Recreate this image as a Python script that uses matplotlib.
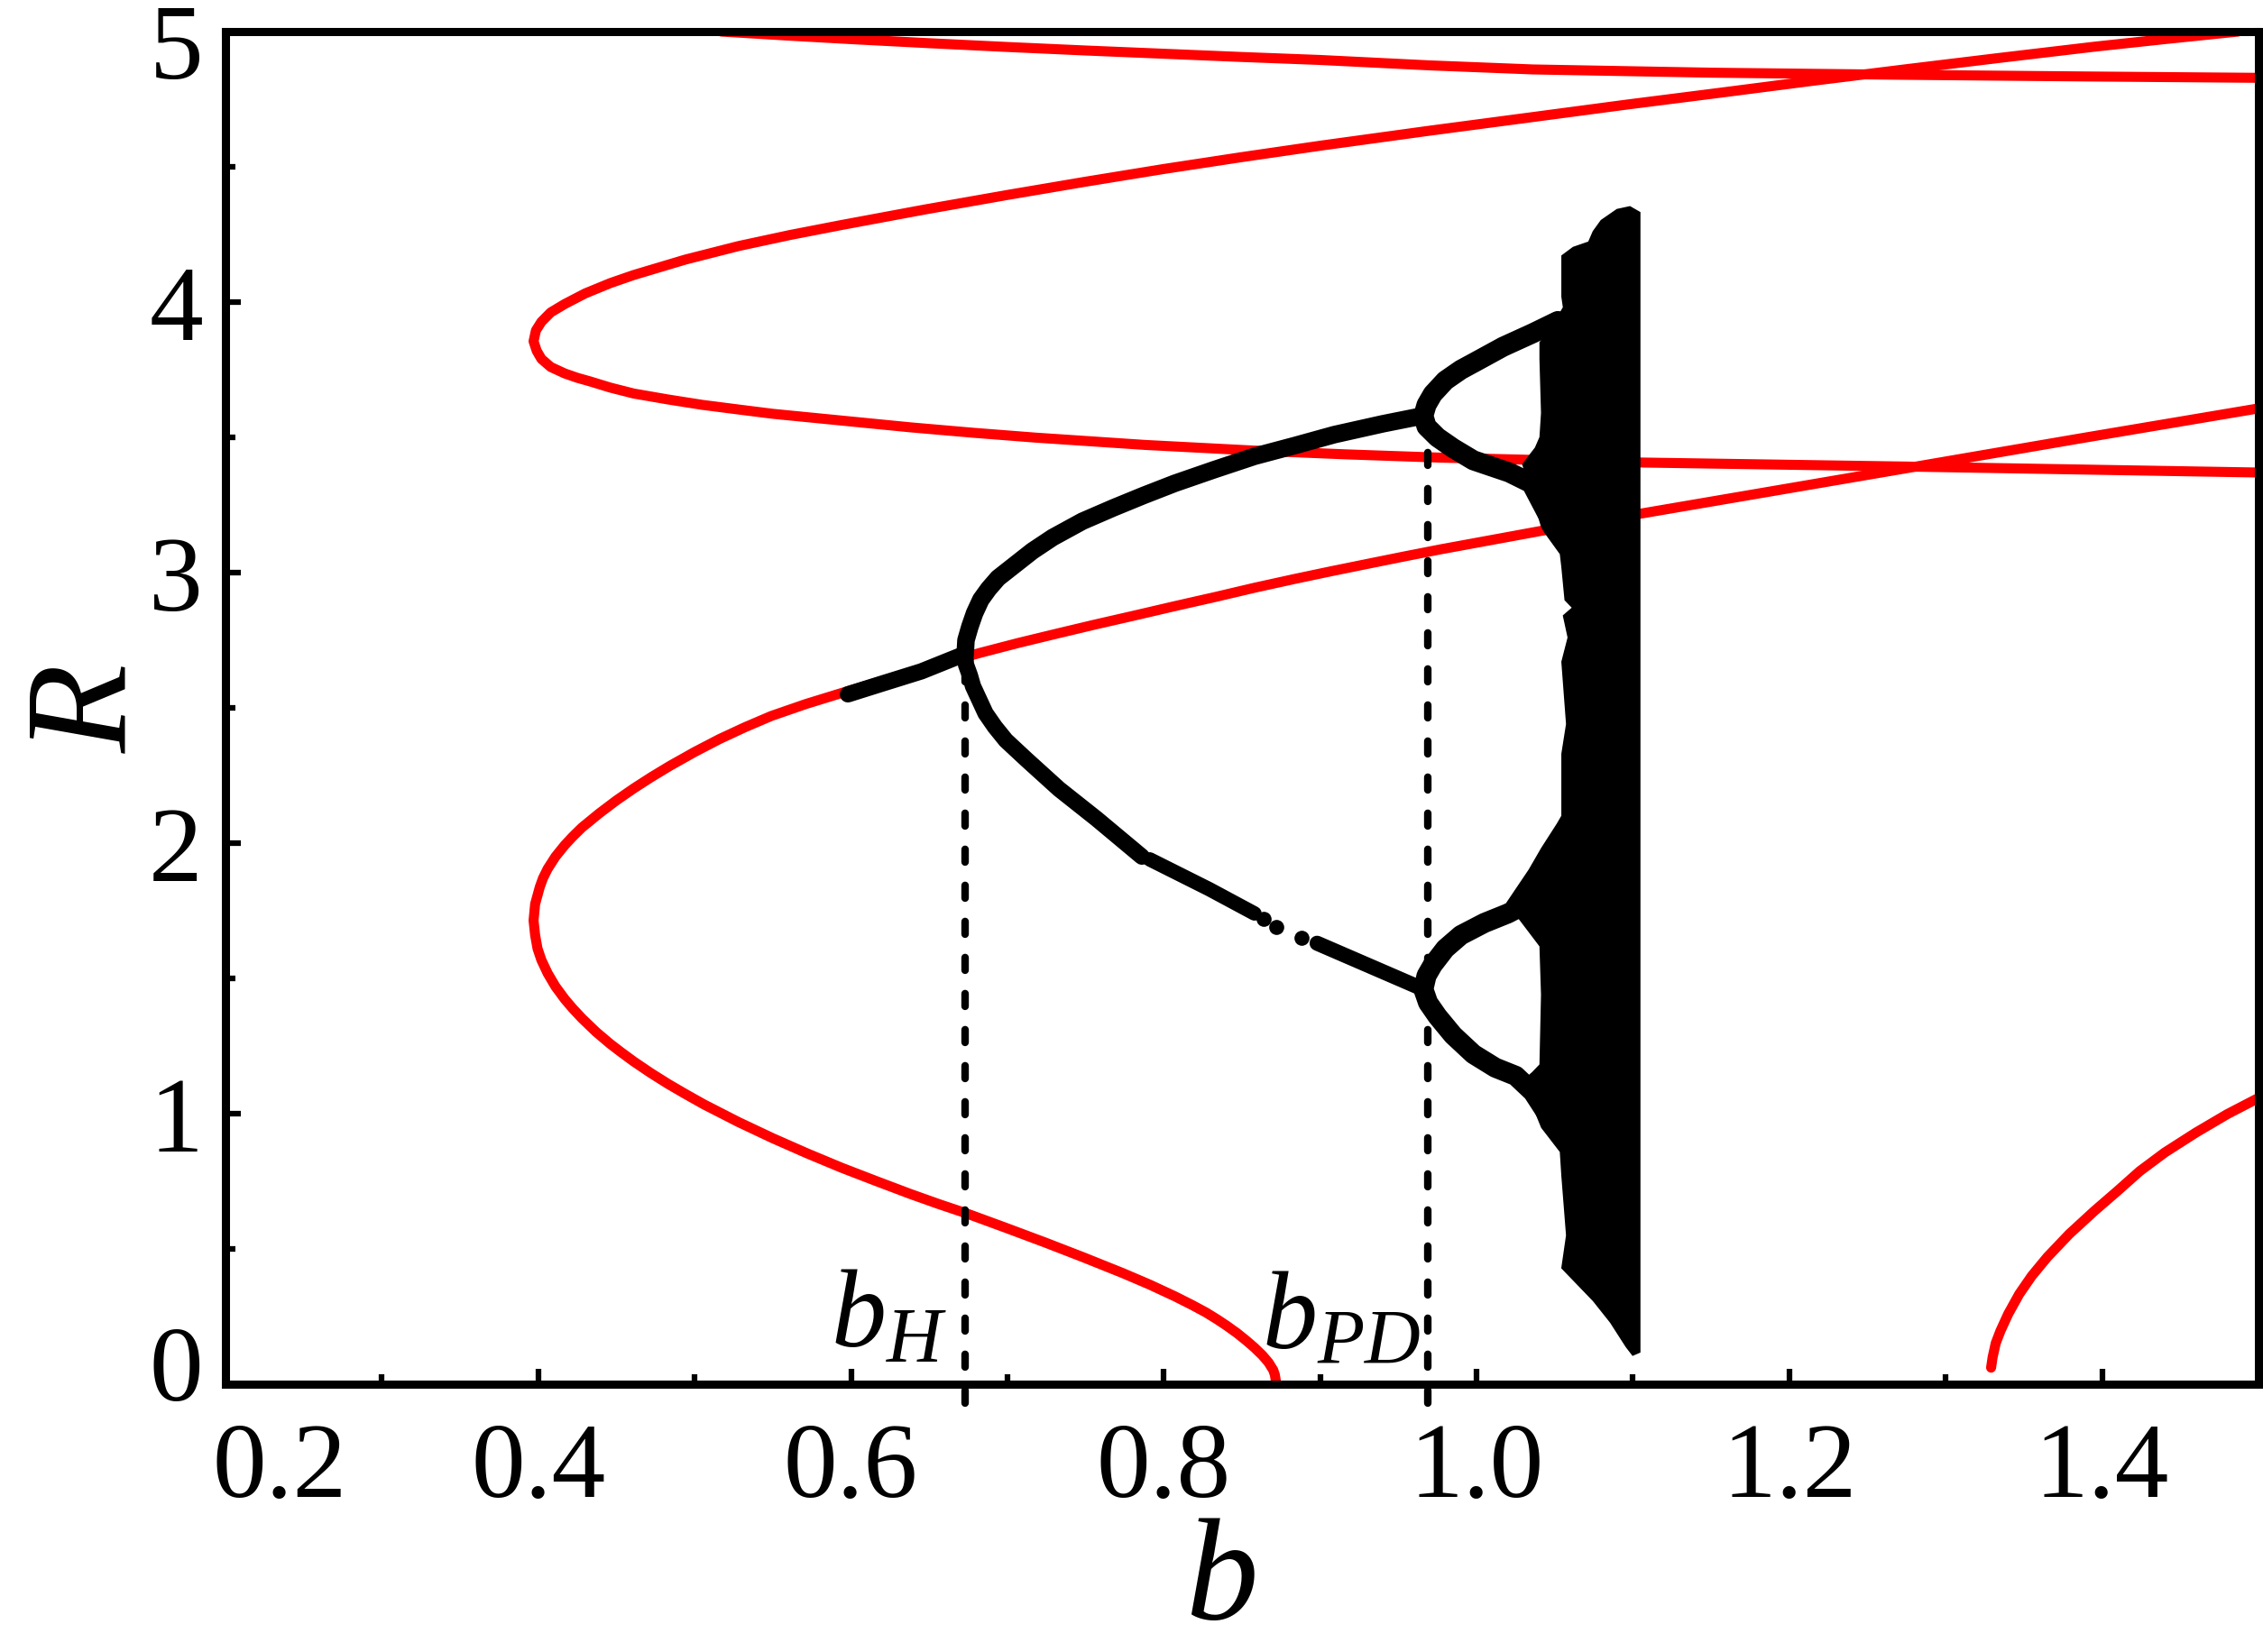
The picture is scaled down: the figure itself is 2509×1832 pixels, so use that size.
import matplotlib
matplotlib.use("Agg")
import matplotlib.pyplot as plt
import matplotlib.transforms as mtransforms
from matplotlib.ticker import FixedLocator

plt.rcParams["font.family"] = "Liberation Serif"
plt.rcParams["mathtext.fontset"] = "custom"
plt.rcParams["mathtext.rm"] = "Liberation Serif"
plt.rcParams["mathtext.it"] = "Liberation Serif:italic"

# ---- red curves (equilibria) ----
# curve A: lower end on the b axis -> nose -> rising branch to the right edge
a_b = [0.872, 0.871, 0.870, 0.867, 0.863, 0.858, 0.853, 0.847, 0.840, 0.834,
       0.827, 0.818, 0.807, 0.791, 0.774, 0.749, 0.724, 0.699, 0.674, 0.656,
       0.638, 0.616, 0.594, 0.572, 0.550, 0.528, 0.506, 0.494, 0.483, 0.472,
       0.461, 0.453, 0.446, 0.437, 0.428, 0.422, 0.417, 0.411, 0.406, 0.402,
       0.3995, 0.398, 0.397, 0.398, 0.401, 0.403, 0.406, 0.411, 0.417, 0.422,
       0.428, 0.439, 0.450, 0.461, 0.472, 0.484, 0.500, 0.516, 0.532, 0.549,
       0.571, 0.594, 0.617, 0.640, 0.660, 0.683, 0.707, 0.732, 0.756, 0.781,
       0.807, 0.833, 0.858, 0.884, 0.907, 0.930, 0.954, 0.977, 1.042, 1.105,
       1.190, 1.275, 1.387, 1.500]
a_R = [0.000, 0.035, 0.052, 0.080, 0.107, 0.135, 0.160, 0.188, 0.217, 0.240,
       0.265, 0.293, 0.325, 0.368, 0.410, 0.468, 0.524, 0.578, 0.631, 0.666,
       0.703, 0.751, 0.800, 0.853, 0.909, 0.969, 1.034, 1.073, 1.110, 1.150,
       1.193, 1.227, 1.258, 1.302, 1.352, 1.389, 1.423, 1.470, 1.519, 1.568,
       1.611, 1.660, 1.714, 1.775, 1.838, 1.870, 1.905, 1.950, 1.993, 2.024,
       2.058, 2.110, 2.158, 2.202, 2.243, 2.285, 2.337, 2.385, 2.428, 2.470,
       2.514, 2.555, 2.595, 2.634, 2.667, 2.704, 2.740, 2.775, 2.808, 2.841,
       2.876, 2.910, 2.944, 2.977, 3.005, 3.032, 3.060, 3.086, 3.155, 3.218,
       3.302, 3.386, 3.497, 3.607]

# curve B: top end -> upper arm -> nose -> lower arm to the right edge
b_b = [1.487, 1.440, 1.395, 1.335, 1.275, 1.215, 1.156, 1.096, 1.036, 0.968,
       0.900, 0.850, 0.800, 0.750, 0.700, 0.647, 0.594, 0.561, 0.528, 0.494,
       0.461, 0.446, 0.430, 0.417, 0.408, 0.402, 0.3985, 0.397, 0.399, 0.402,
       0.408, 0.417, 0.425, 0.433, 0.446, 0.461, 0.483, 0.505, 0.528, 0.550,
       0.594, 0.638, 0.678, 0.718, 0.788, 0.858, 0.917, 0.977, 1.105, 1.275,
       1.500]
b_R = [5.000, 4.972, 4.944, 4.903, 4.861, 4.818, 4.774, 4.730, 4.684, 4.632,
       4.578, 4.536, 4.492, 4.445, 4.396, 4.342, 4.285, 4.248, 4.207, 4.157,
       4.100, 4.070, 4.032, 3.993, 3.962, 3.927, 3.895, 3.855, 3.820, 3.790,
       3.760, 3.736, 3.720, 3.707, 3.684, 3.662, 3.640, 3.620, 3.603, 3.587,
       3.562, 3.537, 3.517, 3.499, 3.472, 3.451, 3.437, 3.425, 3.407, 3.392,
       3.370]

# curve C: nearly flat line near the top
c_b = [0.517, 0.560, 0.600, 0.650, 0.700, 0.750, 0.800, 0.850, 0.900, 0.970,
       1.036, 1.150, 1.275, 1.390, 1.500]
c_R = [5.000, 4.985, 4.972, 4.957, 4.943, 4.930, 4.918, 4.906, 4.895, 4.875,
       4.860, 4.848, 4.840, 4.834, 4.829]

# curve D: bottom right
d_b = [1.329, 1.330, 1.332, 1.335, 1.340, 1.347, 1.355, 1.365, 1.379, 1.395,
       1.410, 1.424, 1.440, 1.460, 1.480, 1.500]
d_R = [0.061, 0.100, 0.152, 0.197, 0.260, 0.333, 0.400, 0.470, 0.555, 0.640,
       0.715, 0.787, 0.856, 0.930, 0.998, 1.058]

# ---- black bifurcation diagram ----
stable_b = [0.598, 0.620, 0.645, 0.673]
stable_R = [2.55, 2.59, 2.635, 2.70]

hopf_up_b = [0.673, 0.6735, 0.676, 0.679, 0.683, 0.688, 0.694, 0.705, 0.716,
             0.729, 0.748, 0.768, 0.787, 0.807, 0.832, 0.858, 0.884, 0.909,
             0.940, 0.966]
hopf_up_R = [2.70, 2.75, 2.80, 2.85, 2.90, 2.94, 2.98, 3.03, 3.08,
             3.13, 3.19, 3.24, 3.285, 3.33, 3.38, 3.43, 3.47, 3.51,
             3.55, 3.58]

hopf_lo1_b = [0.673, 0.6735, 0.676, 0.678, 0.682, 0.686, 0.692, 0.699, 0.712,
              0.733, 0.757, 0.786]
hopf_lo1_R = [2.70, 2.66, 2.62, 2.58, 2.53, 2.48, 2.43, 2.38, 2.31,
              2.20, 2.09, 1.95]
hopf_lo2_b = [0.791, 0.829, 0.858]
hopf_lo2_R = [1.94, 1.83, 1.74]
hopf_dots_b = [0.864, 0.872, 0.888]
hopf_dots_R = [1.72, 1.69, 1.65]
hopf_lo3_b = [0.898, 0.930, 0.966]
hopf_lo3_R = [1.63, 1.55, 1.46]

# period-2 loops after b_PD
loop_up_b = [1.045, 1.035, 1.021, 0.998, 0.985, 0.975, 0.968, 0.966, 0.968,
             0.972, 0.980, 0.990, 0.998, 1.017, 1.036, 1.052]
loop_up_R = [3.22, 3.33, 3.37, 3.415, 3.46, 3.50, 3.54, 3.58, 3.62,
             3.66, 3.71, 3.75, 3.775, 3.835, 3.885, 3.93]
loop_lo_b = [1.045, 1.036, 1.025, 1.012, 0.998, 0.985, 0.975, 0.969, 0.966,
             0.968, 0.972, 0.980, 0.990, 1.005, 1.020, 1.030]
loop_lo_R = [1.00, 1.08, 1.14, 1.17, 1.22, 1.29, 1.36, 1.41, 1.46,
             1.51, 1.55, 1.61, 1.66, 1.705, 1.74, 1.77]

# chaotic band outline
chaos_b = [1.104, 1.098, 1.090, 1.080, 1.075, 1.072, 1.062, 1.055, 1.055,
           1.056, 1.052, 1.041, 1.041, 1.042, 1.041, 1.038, 1.030, 1.042,
           1.044, 1.054, 1.055, 1.057, 1.062, 1.056, 1.059, 1.055, 1.058,
           1.055, 1.055, 1.052, 1.042, 1.034, 1.027, 1.020, 1.041, 1.042,
           1.041, 1.036, 1.030, 1.042, 1.054, 1.055, 1.058, 1.055, 1.065,
           1.075, 1.086, 1.096, 1.100, 1.104]
chaos_R = [4.33, 4.35, 4.34, 4.30, 4.26, 4.22, 4.20, 4.17, 4.02,
           3.98, 3.94, 3.85, 3.79, 3.59, 3.50, 3.46, 3.40, 3.17,
           3.15, 3.07, 3.02, 2.90, 2.87, 2.84, 2.76, 2.67, 2.44,
           2.33, 2.10, 2.07, 1.98, 1.90, 1.84, 1.78, 1.62, 1.44,
           1.18, 1.15, 1.12, 0.95, 0.86, 0.77, 0.55, 0.43, 0.37,
           0.31, 0.23, 0.14, 0.11, 0.12]

b_hopf = 0.673
b_pd = 0.969

x_ticks = [0.2, 0.4, 0.6, 0.8, 1.0, 1.2, 1.4]
x_tick_labels = ["0.2", "0.4", "0.6", "0.8", "1.0", "1.2", "1.4"]
x_minor = [0.3, 0.5, 0.7, 0.9, 1.1, 1.3, 1.5]
y_ticks = [0, 1, 2, 3, 4, 5]
y_minor = [0.5, 1.5, 2.5, 3.5, 4.5]

fig = plt.figure(figsize=(25.09, 18.33), dpi=100)
ax = fig.add_axes([250 / 2509, 1 - 1536 / 1833, 2254 / 2509, 1500 / 1833])

red = "#ff0000"
for xb, yr in [(a_b, a_R), (b_b, b_R), (c_b, c_R), (d_b, d_R)]:
    ax.plot(xb, yr, color=red, lw=8, solid_capstyle="round",
            solid_joinstyle="round", zorder=2)

blk = dict(color="k", lw=13, solid_capstyle="round", solid_joinstyle="round", zorder=3)
ax.plot(stable_b, stable_R, **blk)
ax.plot(hopf_up_b, hopf_up_R, **dict(blk, lw=14))
ax.plot(hopf_lo1_b, hopf_lo1_R, **blk)
ax.plot(hopf_lo2_b, hopf_lo2_R, **dict(blk, lw=11.5))
ax.plot(hopf_lo3_b, hopf_lo3_R, **dict(blk, lw=12))
ax.plot(hopf_dots_b, hopf_dots_R, "o", color="k", ms=12, mew=0, zorder=3)
ax.plot(loop_up_b, loop_up_R, **dict(blk, lw=16))
ax.plot(loop_lo_b, loop_lo_R, **dict(blk, lw=16))
ax.fill(chaos_b, chaos_R, color="k", lw=2, zorder=4)

# dashed markers for the Hopf and period-doubling points
dash = dict(color="k", lw=6, dashes=(1.7, 3.1), dash_capstyle="round",
            zorder=5, clip_on=False)
ax.plot([b_hopf, b_hopf], [-0.07, 2.62], **dash)
ax.plot([b_pd, b_pd], [-0.07, 3.50], **dash)

ax.text(0.661, 0.14, r"$b_H$", fontsize=88, ha="right", va="baseline", zorder=6)
ax.text(0.964, 0.14, r"$b_{PD}$", fontsize=88, ha="right", va="baseline", zorder=6)

ax.set_xlim(0.2, 1.5)
ax.set_ylim(0, 5)

ax.xaxis.set_major_locator(FixedLocator(x_ticks))
ax.xaxis.set_minor_locator(FixedLocator(x_minor))
ax.yaxis.set_major_locator(FixedLocator(y_ticks))
ax.yaxis.set_minor_locator(FixedLocator(y_minor))
ax.set_xticklabels(x_tick_labels)
ax.set_yticklabels([str(v) for v in y_ticks])

ax.tick_params(which="both", direction="in", top=False, right=False,
               labelsize=86, width=4.5)
ax.tick_params(axis="x", which="major", length=12, pad=30)
ax.tick_params(axis="y", which="major", length=12, pad=18)
ax.tick_params(which="minor", length=8)
for s in ax.spines.values():
    s.set_linewidth(6.5)

ax.set_xlabel("b", fontsize=116, style="italic")
ax.set_ylabel("R", fontsize=116, style="italic")
ax.xaxis.set_label_coords(0.49, -0.098)
ax.yaxis.set_label_coords(-0.034, 0.5)

# small nudges of the end tick labels, as in the original
def nudge(label, dx, dy):
    label.set_transform(label.get_transform() +
                        mtransforms.ScaledTranslation(dx / 100, dy / 100,
                                                      fig.dpi_scale_trans))

xl = ax.get_xticklabels()
nudge(xl[0], 60, 0)
yl = ax.get_yticklabels()
nudge(yl[0], 0, 24)
nudge(yl[-1], 0, -10)

fig.savefig("out.png", dpi=100)
